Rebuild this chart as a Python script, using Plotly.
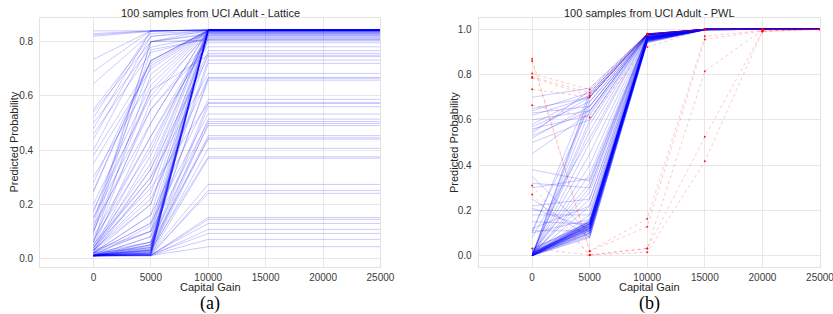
import plotly.graph_objects as go

W, H = 833, 314
FIG_W = 848  # rendered width; the photographed page is squeezed back to 833

# ---------------- data ----------------
cap_gain_ticks = [0, 5000, 10000, 15000, 20000, 25000]
lattice_x = [0, 5000, 10000, 15000, 20000, 25000]
pwl_x = [0, 5000, 10000, 15000, 20000, 25000]

# Lattice model: predicted prob at capital gain 0, 5000, 10000 (flat after 10000)
lat_at_0 = [0.84, 0.83, 0.825, 0.82, 0.735, 0.69, 0.645, 0.55, 0.54, 0.52,
            0.50, 0.48, 0.46, 0.44, 0.40, 0.38, 0.35, 0.30, 0.28, 0.25,
            0.245, 0.20, 0.18, 0.17, 0.15, 0.12, 0.10, 0.08, 0.07, 0.06,
            0.05, 0.04, 0.035, 0.03, 0.03, 0.025, 0.02, 0.02, 0.02, 0.015,
            0.01, 0.012, 0.008, 0.01, 0.014, 0.009, 0.011, 0.013, 0.008, 0.01,
            0.012, 0.009, 0.011, 0.01, 0.012, 0.015, 0.02, 0.03, 0.045, 0.06,
            0.09, 0.11, 0.13,
            0.06, 0.10, 0.03, 0.02, 0.15, 0.04, 0.01, 0.02, 0.05, 0.01,
            0.03, 0.01, 0.02, 0.01, 0.04, 0.01, 0.02, 0.01, 0.03, 0.01,
            0.02, 0.01, 0.012, 0.015, 0.009, 0.011, 0.01, 0.008, 0.012, 0.01,
            0.009, 0.011, 0.01, 0.008, 0.012, 0.01, 0.008]
lat_at_5000 = [0.84, 0.84, 0.84, 0.838, 0.84, 0.84, 0.83, 0.82, 0.80, 0.84,
               0.78, 0.84, 0.76, 0.82, 0.80, 0.72, 0.70, 0.66, 0.73, 0.73,
               0.73, 0.64, 0.60, 0.71, 0.55, 0.50, 0.62, 0.45, 0.40, 0.68,
               0.35, 0.30, 0.42, 0.24, 0.20, 0.33, 0.16, 0.13, 0.28, 0.10,
               0.08, 0.06, 0.05, 0.04, 0.03, 0.025, 0.022, 0.018, 0.015, 0.028,
               0.012, 0.035, 0.01, 0.02, 0.045, 0.03, 0.04, 0.38, 0.50, 0.58,
               0.77, 0.80, 0.80,
               0.45, 0.55, 0.28, 0.20, 0.62, 0.33, 0.12, 0.10, 0.30, 0.06,
               0.22, 0.08, 0.16, 0.05, 0.26, 0.04, 0.13, 0.03, 0.10, 0.02,
               0.06, 0.035, 0.025, 0.05, 0.02, 0.03, 0.015, 0.02, 0.012, 0.015,
               0.012, 0.01, 0.014, 0.01, 0.013, 0.011, 0.01]
lat_at_10000 = [0.843, 0.843, 0.843, 0.843, 0.843, 0.843, 0.84, 0.843, 0.831, 0.843,
                0.822, 0.843, 0.815, 0.835, 0.826, 0.843, 0.84, 0.843, 0.843, 0.843,
                0.84, 0.843, 0.831, 0.843, 0.806, 0.843, 0.84, 0.822, 0.843, 0.843,
                0.835, 0.843, 0.818, 0.843, 0.84, 0.843, 0.843, 0.831, 0.81, 0.843,
                0.843, 0.84, 0.843, 0.835, 0.843, 0.843, 0.826, 0.843, 0.84, 0.843,
                0.843, 0.843, 0.84, 0.843, 0.843, 0.843, 0.84, 0.843, 0.843, 0.84,
                0.81, 0.843, 0.806,
                0.796, 0.781, 0.767, 0.757, 0.75, 0.745, 0.732, 0.72, 0.683, 0.668,
                0.665, 0.658, 0.587, 0.575, 0.572, 0.56, 0.533, 0.514, 0.505, 0.498,
                0.49, 0.453, 0.445, 0.44, 0.406, 0.375, 0.37, 0.273, 0.25, 0.24,
                0.151, 0.144, 0.129, 0.107, 0.092, 0.07, 0.043]

# PWL model, monotone samples (blue)
pwl_blue_at_0 = [0.0, 0.0, 0.005, 0.0, 0.01, 0.0, 0.005, 0.01, 0.0, 0.02,
                 0.0, 0.005, 0.01, 0.0, 0.015, 0.0, 0.005, 0.01, 0.0, 0.02,
                 0.0, 0.01, 0.03, 0.0, 0.005, 0.0, 0.01, 0.0, 0.02, 0.0,
                 0.03, 0.005, 0.0, 0.01, 0.0, 0.015, 0.0, 0.025, 0.0, 0.01,
                 0.0, 0.0, 0.01, 0.0, 0.02, 0.0, 0.0, 0.0, 0.0, 0.01,
                 0.0, 0.0, 0.0, 0.0, 0.10, 0.11, 0.0, 0.08, 0.0, 0.0,
                 0.70, 0.65, 0.64, 0.63, 0.62, 0.60, 0.57, 0.56, 0.55, 0.53,
                 0.52, 0.50, 0.45, 0.58, 0.54,
                 0.38, 0.32, 0.30, 0.22, 0.21, 0.20, 0.15, 0.11, 0.10, 0.35,
                 0.25, 0.12, 0.18]
pwl_blue_at_5000 = [0.08, 0.085, 0.09, 0.095, 0.10, 0.10, 0.105, 0.11, 0.11, 0.115,
                    0.12, 0.12, 0.125, 0.125, 0.13, 0.13, 0.135, 0.135, 0.14, 0.14,
                    0.145, 0.15, 0.15, 0.155, 0.16, 0.14, 0.13, 0.12, 0.125, 0.115,
                    0.14, 0.145, 0.135, 0.12, 0.13, 0.11, 0.10, 0.15, 0.15, 0.14,
                    0.18, 0.22, 0.25, 0.28, 0.32, 0.36, 0.40, 0.45, 0.50, 0.55,
                    0.60, 0.64, 0.68, 0.70, 0.72, 0.66, 0.58, 0.52, 0.30, 0.71,
                    0.74, 0.70, 0.72, 0.66, 0.70, 0.64, 0.68, 0.62, 0.70, 0.64,
                    0.66, 0.60, 0.63, 0.71, 0.73,
                    0.33, 0.30, 0.34, 0.25, 0.12, 0.20, 0.14, 0.11, 0.16, 0.10,
                    0.08, 0.22, 0.18]
pwl_blue_at_10000 = [0.94, 0.942, 0.945, 0.945, 0.948, 0.95, 0.95, 0.952, 0.95, 0.953,
                     0.955, 0.955, 0.956, 0.957, 0.958, 0.958, 0.96, 0.96, 0.96, 0.962,
                     0.962, 0.963, 0.963, 0.965, 0.965, 0.958, 0.955, 0.952, 0.955, 0.95,
                     0.96, 0.962, 0.958, 0.954, 0.957, 0.95, 0.947, 0.962, 0.963, 0.96,
                     0.965, 0.966, 0.967, 0.968, 0.97, 0.97, 0.972, 0.973, 0.974, 0.975,
                     0.976, 0.977, 0.978, 0.978, 0.98, 0.977, 0.975, 0.974, 0.969, 0.978,
                     0.98, 0.98, 0.98, 0.978, 0.979, 0.977, 0.978, 0.976, 0.979, 0.977,
                     0.977, 0.975, 0.976, 0.979, 0.98,
                     0.97, 0.969, 0.97, 0.967, 0.955, 0.965, 0.96, 0.952, 0.962, 0.95,
                     0.945, 0.966, 0.964]
pwl_blue_at_15000 = [0.997, 0.997, 0.998, 0.998, 0.998, 0.998, 0.999, 0.999, 0.998, 0.999,
                     0.999, 0.999, 0.999, 0.999, 0.999, 0.999, 1.0, 1.0, 1.0, 1.0,
                     1.0, 1.0, 1.0, 1.0, 1.0, 0.999, 0.999, 0.999, 0.999, 0.998,
                     1.0, 1.0, 0.999, 0.999, 0.999, 0.998, 0.998, 1.0, 1.0, 1.0,
                     1.0, 1.0, 1.0, 1.0, 1.0, 1.0, 1.0, 1.0, 1.0, 1.0,
                     1.0, 1.0, 1.0, 1.0, 1.0, 1.0, 1.0, 1.0, 1.0, 1.0,
                     1.0, 1.0, 1.0, 1.0, 1.0, 1.0, 1.0, 1.0, 1.0, 1.0,
                     1.0, 1.0, 1.0, 1.0, 1.0,
                     1.0, 1.0, 1.0, 1.0, 0.999, 1.0, 1.0, 0.999, 1.0, 0.998,
                     0.998, 1.0, 1.0]
pwl_blue_at_20000 = [1.0] * 88
pwl_blue_at_25000 = [1.0] * 88

# PWL model, non-monotone samples (red, with markers)
pwl_red_at_0 = [0.87, 0.86, 0.31, 0.27, 0.032, 0.805, 0.79, 0.785, 0.735, 0.665]
pwl_red_at_5000 = [0.02, 0.02, 0.003, 0.003, 0.003, 0.734, 0.72, 0.707, 0.70, 0.61]
pwl_red_at_10000 = [0.163, 0.128, 0.032, 0.032, 0.015, 0.98, 0.978, 0.975, 0.98, 0.922]
pwl_red_at_15000 = [0.969, 0.955, 0.815, 0.525, 0.417, 1.0, 1.0, 1.0, 1.0, 1.0]
pwl_red_at_20000 = [0.995, 0.993, 0.997, 0.99, 0.99, 1.0, 1.0, 1.0, 1.0, 1.0]
pwl_red_at_25000 = [1.0, 1.0, 1.0, 1.0, 1.0, 1.0, 1.0, 1.0, 1.0, 1.0]

y_ticks_a = [0.0, 0.2, 0.4, 0.6, 0.8]
y_ticks_b = [0.0, 0.2, 0.4, 0.6, 0.8, 1.0]

# ---------------- figure ----------------
BLUE = "rgba(0,0,255,0.30)"
RED = "rgba(255,0,0,0.32)"

fig = go.Figure()

for s, m, e in zip(lat_at_0, lat_at_5000, lat_at_10000):
    fig.add_trace(go.Scatter(
        x=lattice_x, y=[s, m, e, e, e, e], mode="lines",
        line=dict(color=BLUE, width=0.7), xaxis="x", yaxis="y",
        showlegend=False, hoverinfo="skip"))

for vals in zip(pwl_blue_at_0, pwl_blue_at_5000, pwl_blue_at_10000,
                pwl_blue_at_15000, pwl_blue_at_20000, pwl_blue_at_25000):
    fig.add_trace(go.Scatter(
        x=pwl_x, y=list(vals), mode="lines",
        line=dict(color=BLUE, width=0.7), xaxis="x2", yaxis="y2",
        showlegend=False, hoverinfo="skip"))

for vals in zip(pwl_red_at_0, pwl_red_at_5000, pwl_red_at_10000,
                pwl_red_at_15000, pwl_red_at_20000, pwl_red_at_25000):
    fig.add_trace(go.Scatter(
        x=pwl_x, y=list(vals), mode="lines+markers",
        line=dict(color=RED, width=0.7, dash="dot"),
        marker=dict(color="rgba(255,0,0,0.85)", size=2.0, line=dict(width=0)),
        xaxis="x2", yaxis="y2", showlegend=False, hoverinfo="skip"))

GRID = "#e8e8e8"
FRAME = "#e3e3e3"
TICKFONT = dict(family="Liberation Sans, Arial, sans-serif", size=10, color="#3a3a3a")

def xaxis(domain, anchor):
    return dict(domain=domain, anchor=anchor, range=[-4650, 25000],
                tickvals=cap_gain_ticks, ticktext=[str(v) for v in cap_gain_ticks],
                showgrid=True, gridcolor=GRID, gridwidth=1, zeroline=False,
                showline=True, linecolor=FRAME, linewidth=1, mirror=True,
                ticks="", tickfont=TICKFONT, ticklabelstandoff=1)

def yaxis(domain, anchor, rng, ticks):
    return dict(domain=domain, anchor=anchor, range=rng,
                tickvals=ticks, ticktext=["%.1f" % t for t in ticks],
                showgrid=True, gridcolor=GRID, gridwidth=1, zeroline=False,
                showline=True, linecolor=FRAME, linewidth=1, mirror=True,
                ticks="", tickfont=TICKFONT, ticklabelstandoff=4)

yd = [47 / H, 296 / H]
fig.update_layout(
    width=FIG_W, height=H, autosize=False,
    margin=dict(l=0, r=0, t=0, b=0),
    paper_bgcolor="white", plot_bgcolor="white",
    xaxis=xaxis([40 / W, 380 / W], "y"),
    yaxis=yaxis(yd, "x", [-0.032, 0.8875], y_ticks_a),
    xaxis2=xaxis([478 / W, 819 / W], "y2"),
    yaxis2=yaxis(yd, "x2", [-0.05, 1.05], y_ticks_b),
)

LBL = dict(family="Liberation Sans, Arial, sans-serif", size=11, color="#262626")
TTL = dict(family="Liberation Sans, Arial, sans-serif", size=11, color="#262626")
SER = dict(family="Liberation Serif, Times New Roman, serif", size=18, color="black")

def px(x):
    return x / W

def py(y):
    return 1 - y / H

ann = []
for cx, title, tag, ylx in [(210, "100 samples from UCI Adult - Lattice", "(a)", 13),
                            (648.5, "100 samples from UCI Adult - PWL", "(b)", 453)]:
    ann.append(dict(x=px(cx), y=py(13), text=title, font=TTL, showarrow=False,
                    xref="paper", yref="paper", xanchor="center", yanchor="middle"))
    ann.append(dict(x=px(cx), y=py(287), text="Capital Gain", font=LBL, showarrow=False,
                    xref="paper", yref="paper", xanchor="center", yanchor="middle"))
    ann.append(dict(x=px(cx), y=py(303), text=tag, font=SER, showarrow=False,
                    xref="paper", yref="paper", xanchor="center", yanchor="middle"))
    ann.append(dict(x=px(ylx), y=py(142.5), text="Predicted Probability", font=LBL,
                    showarrow=False, textangle=-90,
                    xref="paper", yref="paper", xanchor="center", yanchor="middle"))
fig.update_layout(annotations=ann)

fig.write_html("out.html",
               config={"responsive": False, "displayModeBar": False},
               post_script="document.body.style.margin='0px';"
                           "document.body.style.overflow='hidden';")
